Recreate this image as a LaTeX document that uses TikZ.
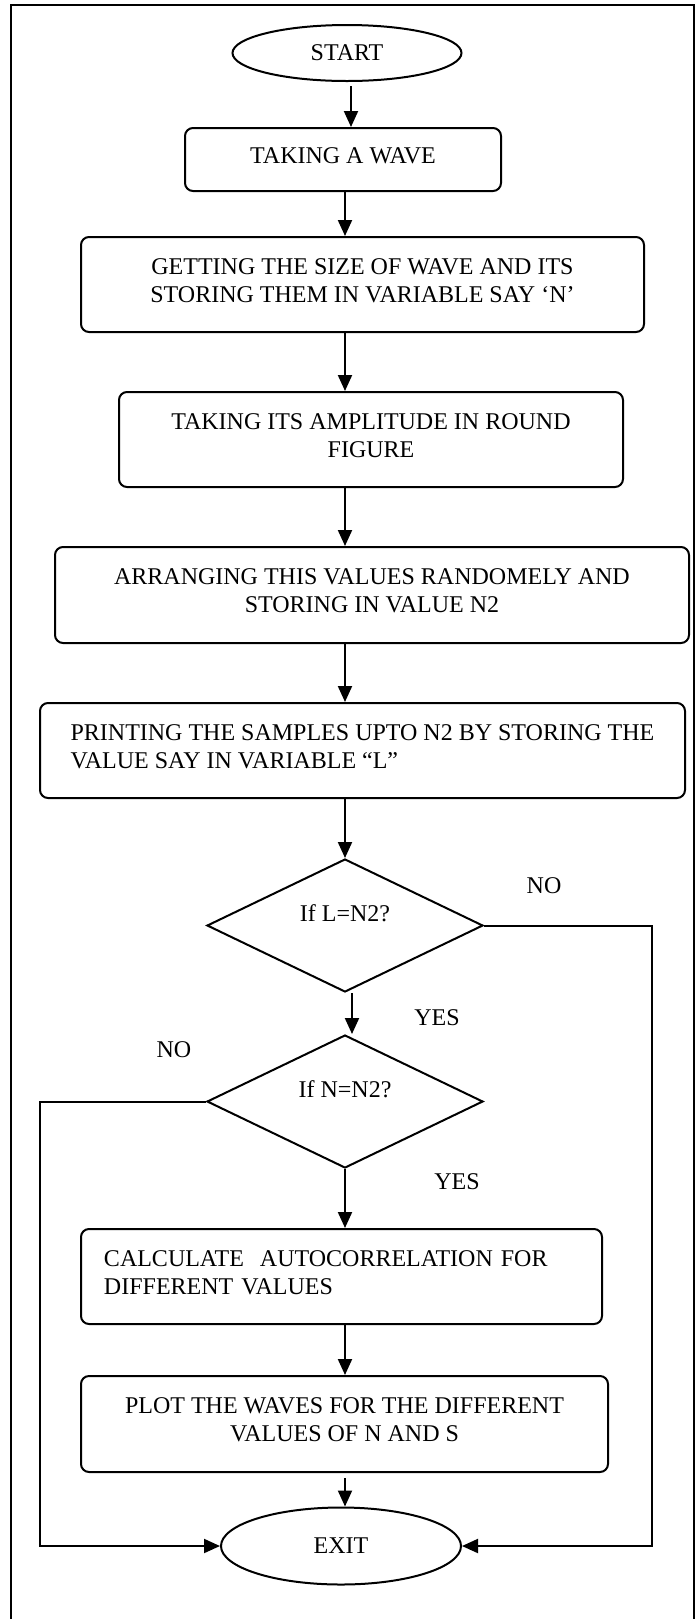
\documentclass[tikz,border=0pt]{standalone}
\usepackage{fontspec}
\setmainfont{Liberation Serif}
\usetikzlibrary{shapes.geometric,arrows.meta,calc}
\begin{document}
\begin{tikzpicture}[x=0.5pt,y=-0.5pt,
  every node/.style={font=\fontsize{12pt}{14pt}\selectfont},
  procbox/.style={draw, line width=1pt, rounded corners=4pt, inner sep=0pt, align=center,
    execute at end node={\rule[-4pt]{0pt}{0pt}}},
  termnode/.style={draw, ellipse, line width=1pt, inner sep=0pt},
  decnode/.style={draw, diamond, line width=1pt, inner sep=0pt, minimum width=138pt, minimum height=66.5pt},
  arr/.style={line width=1pt, -{Triangle[length=8pt,width=7pt]}},
  lbl/.style={inner sep=0pt}
]
\useasboundingbox (0,0) rectangle (699,1619);
\draw[line width=1.4pt] (11,1630) -- (11,5) -- (694,5) -- (694,1630);

\coordinate (ax) at (345,0);
\coordinate (axa) at (351,0);
\coordinate (axb) at (352,0);
\coordinate (rx) at (652,0);
\coordinate (lx) at (40,0);

\node[termnode, minimum width=114.5pt, minimum height=28pt] (start) at (347,53) {START};
\node[procbox, minimum width=158pt, minimum height=31.5pt] (taking) at (343,159.5) {TAKING A WAVE};
\node[procbox, minimum width=281.5pt, minimum height=47.5pt] (getting) at (362.5,284.5) {GETTING THE SIZE OF WAVE AND ITS\\STORING THEM IN VARIABLE SAY ‘N’};
\node[procbox, minimum width=252pt, minimum height=47.5pt] (ampl) at (371,439.5) {TAKING ITS AMPLITUDE IN ROUND\\FIGURE};
\node[procbox, minimum width=317pt, minimum height=48pt] (arrange) at (372,595) {ARRANGING THIS VALUES RANDOMELY AND\\STORING IN VALUE N2};
\node[procbox, align=left, minimum width=322.5pt, minimum height=47.5pt] (print) at (362.5,750.5) {PRINTING THE SAMPLES UPTO N2 BY STORING THE\\VALUE SAY IN VARIABLE “L”};
\node[decnode] (d1) at (345,925.5) {};
\node[lbl] (d1t) at (345,913) {If L=N2?};
\node[decnode] (d2) at (345,1101.5) {};
\node[lbl] (d2t) at (345,1089) {If N=N2?};
\node[procbox, align=left, text width=237.5pt, minimum width=260.5pt, minimum height=47.5pt] (calc) at (341.5,1276.5) {CALCULATE\ \ AUTOCORRELATION FOR\\DIFFERENT VALUES};
\node[procbox, minimum width=263.5pt, minimum height=48pt] (plot) at (344.5,1424) {PLOT THE WAVES FOR THE DIFFERENT\\VALUES OF N AND S};
\node[termnode, minimum width=120pt, minimum height=38.5pt] (exit) at (341,1546) {EXIT};

\node[lbl] (no1) at (544,886) {NO};
\node[lbl] (yes1) at (437,1018) {YES};
\node[lbl] (no2) at (174,1050) {NO};
\node[lbl] (yes2) at (457,1182) {YES};

\draw[arr] ($(start.south -| axa)+(0,4)$) -- (taking.north -| axa);
\draw[arr] (taking.south -| ax) -- (getting.north -| ax);
\draw[arr] (getting.south -| ax) -- (ampl.north -| ax);
\draw[arr] (ampl.south -| ax) -- (arrange.north -| ax);
\draw[arr] (arrange.south -| ax) -- (print.north -| ax);
\draw[arr] (print.south -| ax) -- (d1.north);
\draw[arr] (d1.south -| axb) -- (d2.north -| axb);
\draw[arr] (d1.east) -- (d1.east -| rx) |- (exit.east);
\draw[arr] (d2.west) -- (d2.west -| lx) |- (exit.west);
\draw[arr] (d2.south) -- (calc.north -| ax);
\draw[arr] (calc.south -| ax) -- (plot.north -| ax);
\draw[arr] ($(plot.south -| ax)+(0,5)$) -- (exit.north -| ax);
\end{tikzpicture}
\end{document}
